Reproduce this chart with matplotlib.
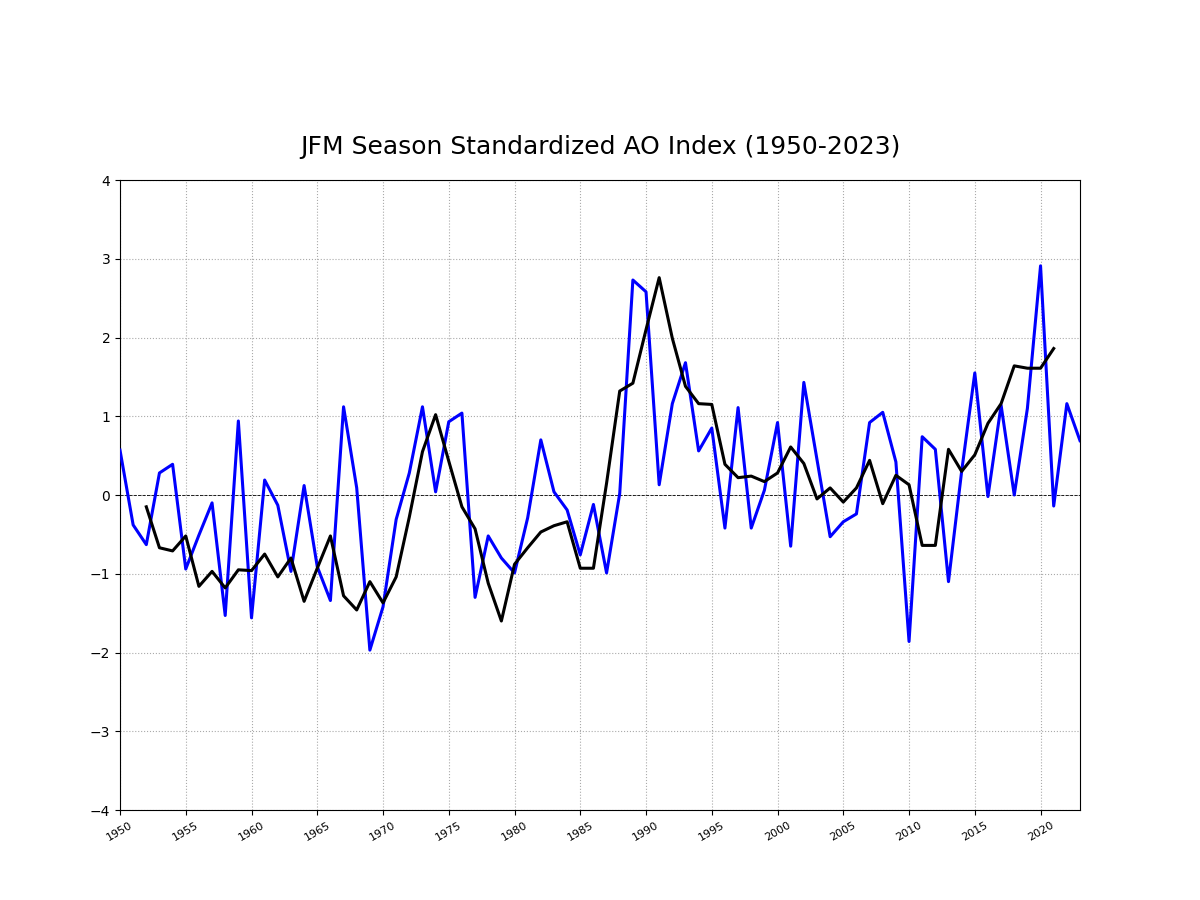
import matplotlib
matplotlib.use("Agg")
import matplotlib.pyplot as plt
import numpy as np

years = list(range(1950, 2024))
ao_jfm = [0.57, -0.38, -0.63, 0.28, 0.39, -0.94, -0.51, -0.10, -1.53, 0.94,
          -1.56, 0.19, -0.13, -0.97, 0.12, -0.91, -1.34, 1.12, 0.09, -1.97,
          -1.42, -0.31, 0.28, 1.12, 0.04, 0.93, 1.04, -1.30, -0.52, -0.80,
          -0.99, -0.29, 0.70, 0.04, -0.19, -0.76, -0.12, -0.99, 0.02, 2.73,
          2.58, 0.13, 1.16, 1.68, 0.56, 0.85, -0.42, 1.11, -0.42, 0.06,
          0.92, -0.65, 1.43, 0.45, -0.53, -0.34, -0.24, 0.92, 1.05, 0.42,
          -1.86, 0.74, 0.58, -1.10, 0.30, 1.55, -0.02, 1.14, 0.00, 1.10,
          2.91, -0.14, 1.16, 0.69]

smooth_years = list(range(1952, 2022))
ao_smooth = [-0.15, -0.67, -0.71, -0.52, -1.16, -0.97, -1.18, -0.95, -0.96, -0.75,
             -1.04, -0.80, -1.35, -0.93, -0.52, -1.28, -1.46, -1.10, -1.37, -1.04,
             -0.28, 0.55, 1.02, 0.43, -0.15, -0.43, -1.12, -1.60, -0.88, -0.67,
             -0.47, -0.39, -0.34, -0.93, -0.93, 0.15, 1.32, 1.42, 2.10, 2.76,
             1.99, 1.38, 1.16, 1.15, 0.39, 0.22, 0.24, 0.17, 0.28, 0.61,
             0.40, -0.05, 0.09, -0.09, 0.09, 0.44, -0.11, 0.25, 0.13, -0.64,
             -0.64, 0.58, 0.30, 0.51, 0.91, 1.16, 1.64, 1.61, 1.61, 1.86]

xtick_years = list(range(1950, 2021, 5))

fig = plt.figure(figsize=(12, 9), dpi=100)
ax = fig.add_axes([0.1, 0.1, 0.8, 0.7])

ax.plot(years, ao_jfm, color="blue", lw=2.2, zorder=3)
ax.plot(smooth_years, ao_smooth, color="black", lw=2.2, zorder=4)
ax.axhline(0, color="black", lw=0.6, ls="--", zorder=2)

ax.set_xlim(1950, 2023)
ax.set_ylim(-4, 4)
ax.set_xticks(xtick_years)
ax.set_xticklabels([str(y) for y in xtick_years], rotation=30, fontsize=8)
ax.set_yticks(range(-4, 5))
ax.tick_params(axis="y", labelsize=10)
ax.grid(True, ls=":", color="#aaaaaa", lw=0.8)
ax.set_axisbelow(True)

ax.set_title("JFM Season Standardized AO Index (1950-2023)", fontsize=18, pad=18.5)

fig.savefig("out.png", dpi=100)
